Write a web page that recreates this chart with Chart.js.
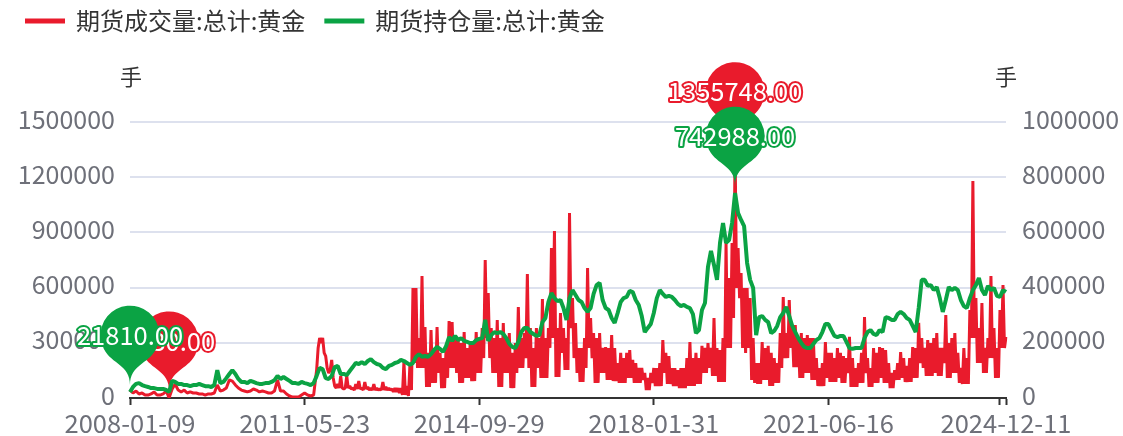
<!DOCTYPE html>
<html>
<head>
<meta charset="utf-8">
<style>
    html, body { margin: 0; padding: 0; background: #fff; }
    #box { width: 1123px; height: 436px; }
    canvas { display: block; }
</style>
<script src="https://cdn.jsdelivr.net/npm/chart.js@4"></script>
</head>
<body>
<div id="box"><canvas id="chart" width="1123" height="436"></canvas></div>
<script>
// Axis labels
const tickDates = ['2008-01-09', '2011-05-23', '2014-09-29', '2018-01-31', '2021-06-16', '2024-10-30', '2024-12-11'];
const tickSpots = [0, 116, 232, 348, 464, 578, 582];
const leftTicks = [0, 300000, 600000, 900000, 1200000, 1500000];
const rightTicks = [0, 200000, 400000, 600000, 800000, 1000000];
const unitName = '手';
const volumeName = '期货成交量:总计:黄金';
const holdingName = '期货持仓量:总计:黄金';

// One value every second category (the tops of the volume swings)
const volume = [
    43000,27000,38000,22000,27000,16000,16000,22000,33000,16000,16000,22000,38000,1430,
    49000,76000,43000,33000,43000,27000,33000,27000,27000,22000,22000,16000,22000,22000,27000,71000,38000,43000,54000,98000,92000,71000,54000,43000,38000,33000,38000,49000,43000,33000,38000,33000,27000,27000,38000,98000,38000,38000,22000,11000,5000,5000,5000,16000,27000,16000,11000,16000,
    152000,326000,326000,228000,136000,207000,65000,76000,120000,49000,120000,65000,54000,76000,92000,54000,87000,60000,54000,76000,54000,49000,87000,60000,54000,49000,54000,54000,
    54000,196000,65000,185000,598000,598000,326000,663000,386000,245000,370000,272000,386000,245000,217000,272000,418000,413000,326000,326000,299000,359000,272000,299000,299000,359000,326000,380000,750000,571000,380000,326000,424000,326000,408000,326000,353000,245000,299000,495000,326000,353000,674000,380000,272000,380000,326000,538000,326000,380000,815000,908000,380000,462000,380000,326000,1005000,543000,408000,272000,272000,326000,707000,435000,353000,326000,353000,272000,277000,272000,342000,272000,190000,245000,217000,245000,261000,207000,190000,163000,163000,136000,109000,136000,163000,163000,190000,315000,245000,228000,163000,163000,152000,163000,163000,217000,304000,217000,245000,217000,283000,272000,299000,272000,435000,272000,261000,326000,842000,652000,842000,1355748,815000,679000,598000,598000,543000,326000,190000,190000,304000,272000,283000,245000,217000,190000,353000,549000,353000,533000,380000,397000,326000,353000,326000,342000,326000,326000,217000,163000,190000,304000,245000,245000,217000,272000,245000,228000,217000,332000,217000,163000,190000,245000,440000,217000,163000,272000,245000,277000,272000,261000,190000,136000,152000,190000,250000,217000,174000,217000,277000,272000,408000,326000,272000,315000,299000,326000,353000,272000,272000,451000,299000,326000,353000,245000,163000,272000,217000,478000,1179000,543000,380000,516000,272000,326000,663000,380000,272000,478000,614000,332000
];
// The bottoms of the swings, from late 2011 on they fall between the values above
const volumeQuietPoints = 62;
const volumeBetween = [
    272000,299000,245000,163000,152000,109000,54000,54000,54000,54000,54000,49000,43000,49000,49000,43000,49000,43000,43000,43000,43000,43000,43000,43000,43000,33000,33000,27000,
    16000,16000,11000,43000,190000,163000,163000,163000,60000,60000,82000,82000,136000,54000,54000,109000,163000,163000,136000,82000,82000,109000,109000,92000,92000,136000,136000,217000,326000,217000,136000,136000,60000,60000,136000,136000,54000,54000,136000,163000,163000,217000,163000,60000,60000,163000,109000,109000,109000,272000,326000,114000,114000,245000,152000,152000,380000,217000,136000,87000,87000,163000,272000,217000,82000,82000,136000,136000,98000,98000,92000,92000,82000,82000,82000,109000,109000,82000,82000,82000,98000,43000,43000,82000,65000,65000,65000,136000,76000,76000,65000,65000,54000,54000,54000,65000,65000,65000,76000,76000,136000,136000,163000,120000,120000,87000,87000,87000,272000,272000,435000,598000,543000,272000,245000,272000,98000,82000,76000,76000,98000,98000,65000,65000,82000,82000,163000,217000,217000,272000,168000,168000,109000,109000,136000,136000,98000,98000,65000,65000,65000,109000,87000,87000,87000,109000,82000,82000,136000,60000,60000,60000,82000,82000,136000,60000,60000,82000,82000,109000,82000,82000,54000,54000,98000,98000,109000,87000,87000,87000,109000,109000,190000,163000,120000,120000,120000,136000,120000,120000,190000,109000,109000,136000,136000,82000,76000,76000,76000,326000,326000,190000,190000,136000,136000,217000,217000,109000,109000,272000,272000
];
const holding = [
    21810,40000,51000,54000,47000,43000,40000,36000,36000,33000,33000,33000,29000,22000,
    62000,58000,51000,51000,47000,47000,43000,47000,47000,51000,47000,43000,43000,40000,47000,101000,54000,58000,72000,87000,101000,87000,69000,58000,58000,54000,62000,58000,54000,51000,51000,54000,54000,58000,65000,80000,69000,76000,69000,62000,54000,54000,51000,58000,54000,51000,47000,54000,80000,109000,105000,72000,69000,80000,112000,116000,87000,87000,83000,98000,112000,127000,123000,130000,123000,134000,141000,130000,123000,120000,109000,105000,116000,120000,127000,130000,138000,134000,127000,120000,127000,149000,159000,
    149000,152000,149000,159000,174000,185000,178000,167000,188000,221000,207000,225000,210000,217000,207000,203000,199000,199000,210000,214000,217000,283000,207000,228000,239000,235000,239000,232000,217000,196000,185000,181000,203000,239000,254000,254000,239000,232000,225000,228000,275000,290000,348000,380000,362000,351000,355000,326000,283000,362000,391000,373000,355000,348000,326000,312000,326000,377000,409000,417000,355000,326000,319000,290000,272000,308000,348000,362000,366000,388000,384000,355000,337000,297000,239000,254000,268000,308000,362000,391000,377000,366000,370000,366000,355000,341000,333000,337000,330000,326000,304000,235000,246000,319000,344000,475000,533000,482000,428000,562000,634000,562000,572000,634000,742988,670000,645000,623000,489000,428000,399000,228000,
    293000,297000,283000,275000,235000,243000,261000,293000,308000,330000,297000,261000,239000,217000,199000,185000,181000,181000,196000,210000,217000,239000,268000,268000,246000,225000,221000,225000,225000,203000,181000,178000,181000,181000,181000,217000,239000,246000,232000,228000,246000,239000,293000,290000,283000,283000,304000,312000,304000,290000,283000,261000,239000,326000,428000,428000,406000,409000,391000,402000,362000,312000,355000,402000,391000,399000,391000,355000,333000,326000,362000,391000,409000,435000,391000,373000,406000,391000,399000,370000,366000,391000,384000
];

if (volume.length !== 292 || volumeBetween.length + volumeQuietPoints !== 291) throw new Error('lengths ' + volume.length + ' ' + volumeBetween.length);

// One label per point, walking between the dates on the axis
const categories = [];
tickSpots.forEach((spot, n) => {
    if (n === tickSpots.length - 1) { categories.push(tickDates[n]); return; }
    const from = Date.parse(tickDates[n]);
    const to = Date.parse(tickDates[n + 1]);
    const steps = tickSpots[n + 1] - spot;
    for (let k = 0; k < steps; k++) {
        categories.push(new Date(from + (to - from) * k / steps).toISOString().slice(0, 10));
    }
});

// Lay the lists on the shared categories, gaps get spanned by the line
const volumeLine = volume.flatMap((v, i) => {
    const next = i < volumeQuietPoints ? null : volumeBetween[i - volumeQuietPoints];
    return i === volume.length - 1 ? [v] : [v, next];
});
const holdingLine = holding.flatMap((v, i) => i === holding.length - 1 ? [v] : [v, null]);

const RED = '#E91B2C';
const GREEN = '#0BA344';
const FONT = '"Noto Sans CJK SC", "Noto Sans", sans-serif';

// Draws one echarts style pin with its tip a little above the point
function drawPin(ctx, x, y, color, text) {
    const r = 29.5, h = 93;
    const dy = r * r / (h - r);
    const cy = y - h + r + dy;
    const angle = Math.asin(dy / r);
    const dx = Math.cos(angle) * r;
    const tanX = Math.sin(angle), tanY = Math.cos(angle);
    const cp = r * 0.6, cp2 = r * 0.7;
    ctx.save();
    ctx.fillStyle = color;
    ctx.beginPath();
    ctx.moveTo(x - dx, cy + dy);
    ctx.arc(x, cy, r, Math.PI - angle, Math.PI * 2 + angle);
    ctx.bezierCurveTo(x + dx - tanX * cp, cy + dy + tanY * cp, x, y - cp2, x, y);
    ctx.bezierCurveTo(x, y - cp2, x - dx + tanX * cp, cy + dy + tanY * cp, x - dx, cy + dy);
    ctx.closePath();
    ctx.fill();
    ctx.font = '25.5px ' + FONT;
    ctx.textAlign = 'center';
    ctx.textBaseline = 'middle';
    ctx.lineJoin = 'round';
    ctx.lineWidth = 4;
    ctx.strokeStyle = color;
    ctx.strokeText(text, x, cy);
    ctx.fillStyle = '#fff';
    ctx.fillText(text, x, cy);
    ctx.restore();
}

// y tick labels sit a little above their grid lines in the original
function liftLabels(scale) {
    if (scale.liftDone) return;
    scale.liftDone = true;
    const drawLabels = scale.drawLabels;
    scale.drawLabels = function (area) {
        this.ctx.save();
        this.ctx.translate(0, -3);
        drawLabels.call(this, area);
        this.ctx.restore();
    };
}

const pinPlugin = {
    id: 'pins',
    afterInit(chart) {
        // legend keeps its place at the top, plot starts below it
        const legend = chart.legend;
        const fit = legend.fit;
        legend.fit = function () {
            fit.call(this);
            this.height = 122;
        };
        const draw = legend.draw;
        legend.draw = function () {
            this.top -= 11;
            this.left += 6;
            draw.call(this);
            this.top += 11;
            this.left -= 6;
        };
    },
    afterDatasetDraw(chart, args) {
        const ds = chart.data.datasets[args.index];
        const yScale = chart.scales[ds.yAxisID];
        const xScale = chart.scales.x;
        const known = ds.data.filter(v => v !== null);
        [Math.max(...known), Math.min(...known)].forEach(v => {
            drawPin(chart.ctx, xScale.getPixelForValue(ds.data.indexOf(v)), yScale.getPixelForValue(v) - 7,
                ds.borderColor, v.toFixed(2));
        });
    },
    afterDraw(chart) {
        const ctx = chart.ctx;
        ctx.save();
        ctx.font = '22px ' + FONT;
        ctx.fillStyle = '#333';
        ctx.textAlign = 'center';
        ctx.textBaseline = 'middle';
        ctx.fillText(unitName, chart.chartArea.left + 1, chart.chartArea.top - 45);
        ctx.fillText(unitName, chart.chartArea.right, chart.chartArea.top - 45);
        ctx.restore();
    }
};

new Chart(document.getElementById('chart'), {
    type: 'line',
    data: {
        labels: categories,
        datasets: [
            { label: volumeName, data: volumeLine, borderColor: RED, backgroundColor: RED, borderWidth: 3,
              borderJoinStyle: 'bevel', spanGaps: true, pointRadius: 0, tension: 0, yAxisID: 'y', order: 2 },
            { label: holdingName, data: holdingLine, borderColor: GREEN, backgroundColor: GREEN, borderWidth: 4,
              borderJoinStyle: 'bevel', spanGaps: true, pointRadius: 0, tension: 0, yAxisID: 'y1', order: 1 }
        ]
    },
    options: {
        responsive: false,
        animation: false,
        layout: { padding: 0 },
        plugins: {
            tooltip: { enabled: false },
            legend: {
                position: 'top',
                align: 'start',
                labels: {
                    boxWidth: 38, boxHeight: 3, padding: 20, color: '#333',
                    font: { family: FONT, size: 24 },
                    sort: (a, b) => a.datasetIndex - b.datasetIndex,
                    generateLabels: chart => Chart.defaults.plugins.legend.labels.generateLabels(chart)
                        .map(item => ({ ...item, lineWidth: 2, lineJoin: 'miter' }))
                }
            }
        },
        scales: {
            x: {
                type: 'category',
                afterBuildTicks: scale => { scale.ticks = tickSpots.map(v => ({ value: v })); },
                afterFit: scale => { scale.height = 38; },
                border: { color: '#333', width: 2 },
                grid: { drawOnChartArea: false, drawTicks: true, tickLength: 7, tickColor: '#333', tickWidth: 2 },
                ticks: {
                    autoSkip: false, maxRotation: 0, padding: 3, color: '#6E7079',
                    font: { family: FONT, size: 25.5 },
                    callback: function (v) { return v === 578 ? '' : this.getLabelForValue(v); }
                }
            },
            y: {
                position: 'left', min: 0, max: 1500000,
                afterBuildTicks: scale => { scale.ticks = leftTicks.map(v => ({ value: v })); },
                afterFit: scale => { scale.width = 130; },
                afterUpdate: liftLabels,
                border: { display: false },
                grid: { color: '#DDE1EE', lineWidth: 2, drawTicks: false },
                ticks: { padding: 15, color: '#6E7079', font: { family: FONT, size: 25 }, callback: v => String(v) }
            },
            y1: {
                position: 'right', min: 0, max: 1000000,
                afterBuildTicks: scale => { scale.ticks = rightTicks.map(v => ({ value: v })); },
                afterFit: scale => { scale.width = 117; },
                afterUpdate: liftLabels,
                border: { display: false },
                grid: { display: false, drawTicks: false },
                ticks: { padding: 16, color: '#6E7079', font: { family: FONT, size: 25 }, callback: v => String(v) }
            }
        }
    },
    plugins: [pinPlugin]
});
</script>
</body>
</html>
